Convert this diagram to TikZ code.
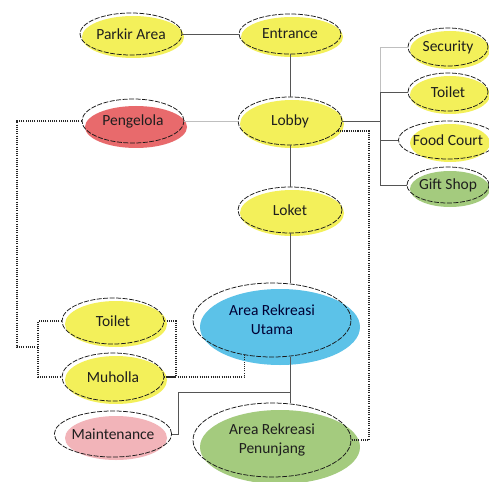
\documentclass[tikz,border=0pt]{standalone}
\usepackage{fontspec}
\setmainfont{Carlito}
\usetikzlibrary{shapes.geometric}
\definecolor{cyel}{HTML}{F3F05A}
\definecolor{cred}{HTML}{E86A6C}
\definecolor{cblue}{HTML}{5CC2E8}
\definecolor{cgreen}{HTML}{A4CB7E}
\definecolor{cpink}{HTML}{F2B4B9}
\definecolor{ctext}{HTML}{1E1E1E}
\definecolor{cline}{HTML}{555555}
\tikzset{
  ell/.style={ellipse, draw=black!90, line width=0.75pt, dash pattern=on 5pt off 1.5pt, inner sep=0pt, text=ctext, font=\fontsize{15.5}{19}\selectfont, align=center},
  conn/.style={draw=cline, line width=0.9pt},
  lightconn/.style={draw=black!25, line width=0.9pt},
  dotconn/.style={draw=black!85, line width=1.5pt, dash pattern=on 1.1pt off 1.1pt},
}
\begin{document}
\begin{tikzpicture}[x=1pt,y=-1pt]
\useasboundingbox[fill=white] (0,0) rectangle (489,481);
% colored fills (offset)
\fill[cyel] (133,37) ellipse [x radius=51, y radius=21];
\fill[cyel] (292,37) ellipse [x radius=51, y radius=20];
\fill[cyel] (450,50) ellipse [x radius=40, y radius=19];
\fill[cyel] (450,95) ellipse [x radius=40, y radius=19];
\fill[cyel] (450,143) ellipse [x radius=40, y radius=19];
\fill[cgreen] (450,189) ellipse [x radius=40, y radius=18];
\fill[cred] (136,127) ellipse [x radius=51, y radius=21];
\fill[cyel] (292,124) ellipse [x radius=52, y radius=24];
\fill[cyel] (292,213) ellipse [x radius=52, y radius=23];
\fill[cyel] (116,324) ellipse [x radius=51, y radius=23];
\fill[cyel] (116,380) ellipse [x radius=51, y radius=24];
\fill[cpink] (116,438) ellipse [x radius=51, y radius=22];
\fill[cblue] (280,327) ellipse [x radius=80, y radius=38];
\fill[cgreen] (280,447) ellipse [x radius=80, y radius=37];
% nodes
\node[ell, minimum width=102pt, minimum height=42pt] (parkir) at (131,34) {Parkir Area};
\node[ell, minimum width=102pt, minimum height=40pt] (entrance) at (290,34) {Entrance};
\node[ell, minimum width=80pt, minimum height=38pt] (security) at (448,47) {Security};
\node[ell, minimum width=80pt, minimum height=38pt] (toiletr) at (448,92) {Toilet};
\node[ell, minimum width=80pt, minimum height=38pt] (food) at (448,140) {Food Court};
\node[ell, minimum width=80pt, minimum height=36pt] (gift) at (448,185) {Gift Shop};
\node[ell, minimum width=102pt, minimum height=44pt] (pengelola) at (133,121) {Pengelola};
\node[ell, minimum width=104pt, minimum height=48pt] (lobby) at (290,121) {Lobby};
\node[ell, minimum width=104pt, minimum height=46pt] (loket) at (290,210) {Loket};
\node[ell, minimum width=102pt, minimum height=46pt] (toiletl) at (113,321) {Toilet};
\node[ell, minimum width=102pt, minimum height=48pt] (muholla) at (113,377) {Muholla};
\node[ell, minimum width=102pt, minimum height=46pt] (maint) at (113,434) {Maintenance};
\node[ell, minimum width=158pt, minimum height=74pt, text=black!80!blue] (utama) at (272,320) {Area Rekreasi\\Utama};
\node[ell, minimum width=158pt, minimum height=74pt] (penunjang) at (272,440) {Area Rekreasi\\Penunjang};
% coordinates
\coordinate (bx) at (380,121);
\coordinate (mj) at (290,392);
\coordinate (mk) at (178,392);
\coordinate (dc) at (369,440);
\coordinate (pl) at (17,347);
\coordinate (pb) at (38,347);
\coordinate (lb) at (38,377);
\coordinate (rb) at (176,377);
% solid connectors
\draw[conn] (parkir.east) -- (entrance.west);
\draw[conn] (entrance.south) -- (lobby.north);
\draw[lightconn] (pengelola.east) -- (lobby.west);
\draw[conn] (lobby.east) -- (bx);
\draw[lightconn] (security.west) -| (bx);
\draw[conn] (toiletr.west) -| (bx);
\draw[conn] (food.west) -| (bx);
\draw[conn] (gift.west) -| (bx);
\draw[conn] (lobby.south) -- (loket.north);
\draw[conn] (loket.south) -- (loket.south |- utama.north);
\draw[conn] (utama.south -| loket.south) -- (penunjang.north -| loket.south);
\draw[conn] (maint.east) -| (mk) -- (mj);
% dotted connectors
\draw[dotconn] (lobby.-12) -| (dc) -- (penunjang.east);
\draw[dotconn] (pengelola.west) -| (pl) -- (pb);
\draw[dotconn] (toiletl.west) -| (lb) -- (muholla.west);
\draw[dotconn] (toiletl.east) -| (rb) -- (muholla.east);
\draw[dotconn] (muholla.east) -| (utama.232);
\end{tikzpicture}
\end{document}
